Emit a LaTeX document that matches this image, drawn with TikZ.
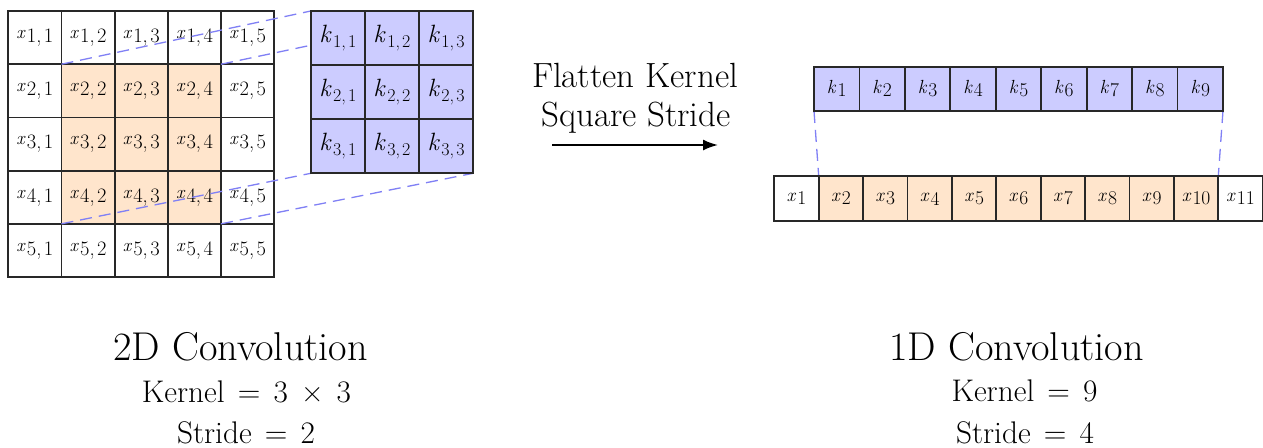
\documentclass[tikz,border=0pt]{standalone}
\usetikzlibrary{arrows.meta}
\definecolor{kfill}{RGB}{204,204,255}
\definecolor{xfill}{RGB}{255,229,204}
\definecolor{dashc}{RGB}{128,128,245}
\definecolor{gridc}{RGB}{40,40,40}
\pgfdeclarelayer{back}
\pgfdeclarelayer{mid}
\pgfsetlayers{back,mid,main}
% base letter in current size, index in size #3, lowered by #4
\newcommand\subidx[4]{\textit{#1}\kern0.06em\raisebox{-#4}{\fontsize{#3}{#3}\selectfont #2}}
\newcommand\wsp{\hspace{0.42em}}
\tikzset{
  cellbase/.style={draw=gridc, line width=1.8pt, inner sep=0pt, outer sep=0pt, anchor=center},
  gcell/.style={cellbase, minimum width=53.2pt, minimum height=53.2pt, font=\fontsize{18.5}{20}\selectfont},
  kcell/.style={cellbase, fill=kfill, minimum width=54.1pt, minimum height=54.1pt, font=\fontsize{25}{28}\selectfont},
  fkcell/.style={cellbase, fill=kfill, minimum width=45.44pt, minimum height=44.3pt, font=\fontsize{19}{20}\selectfont},
  fxcell/.style={cellbase, minimum width=44.4pt, minimum height=45pt, font=\fontsize{19}{20}\selectfont},
  dashline/.style={draw=dashc, line width=1.3pt, dash pattern=on 12pt off 7pt},
  titletext/.style={anchor=base, inner sep=0pt, font=\fontsize{40.2}{48}\selectfont},
  subtext/.style={anchor=base, inner sep=0pt, font=\fontsize{31.3}{38}\selectfont},
  flattext/.style={anchor=base, inner sep=0pt, font=\fontsize{35}{42}\selectfont},
  bigarrow/.style={line width=2pt, -{Latex[length=15pt,width=11pt]}}
}
\begin{document}
\begin{tikzpicture}[x=1pt,y=-1pt]
\useasboundingbox (0,0) rectangle (1263,447);
\begin{pgfonlayer}{back}
\fill[white] (0,0) rectangle (1263,447);
% 2D input grid
\foreach \r in {1,...,5} {
  \foreach \c in {1,...,5} {
    \pgfmathtruncatemacro\inn{and(and(\r>1,\r<5),and(\c>1,\c<5))}
    \ifnum\inn=1 \def\fc{xfill}\else\def\fc{white}\fi
    \node[gcell, fill=\fc] (g-\r-\c) at ({8.3+53.2*(\c-0.5)},{11+53.2*(\r-0.5)}) {\subidx{x}{\r,\kern0.12em\c}{20.5}{0.22em}};
  }
}
\end{pgfonlayer}

% 2D kernel
\foreach \r in {1,2,3} {
  \foreach \c in {1,2,3} {
    \node[kcell] (k-\r-\c) at ({310.8+54.1*(\c-0.5)},{11+54.1*(\r-0.5)}) {\subidx{k}{\r,\kern0.12em\c}{18}{0.22em}};
  }
}

\begin{pgfonlayer}{mid}
\draw[dashline] (g-2-2.north west) -- (k-1-1.north west);
\draw[dashline] (g-2-4.north east) -- (k-1-3.north east);
\draw[dashline] (g-4-2.south west) -- (k-3-1.south west);
\draw[dashline] (g-4-4.south east) -- (k-3-3.south east);
\end{pgfonlayer}

% flattened kernel
\foreach \i in {1,...,9} {
  \node[fkcell] (kk-\i) at ({814+45.44*(\i-0.5)},88.85) {\subidx{k}{\i}{19.5}{0.16em}};
}
% flattened input
\foreach \i in {1,...,11} {
  \pgfmathtruncatemacro\inn{and(\i>1,\i<11)}
  \ifnum\inn=1 \def\fc{xfill}\else\def\fc{white}\fi
  \node[fxcell, fill=\fc] (xx-\i) at ({774.3+44.4*(\i-0.5)},198.5) {\subidx{x}{\i}{19.5}{0.16em}};
}
\begin{pgfonlayer}{mid}
\draw[dashline] (kk-1.south west) -- (xx-2.north west);
\draw[dashline] (kk-9.south east) -- (xx-10.north east);
\end{pgfonlayer}

% arrow and its label
\node[flattext] (f1) at (635,87.3) {Flatten Kernel};
\node[flattext] (f2) at (636,126) {Square Stride};
\coordinate (a1) at (552,145);
\coordinate (a2) at (718,145);
\draw[bigarrow] (a1) -- (a2);

% captions
\node[titletext] (t2) at (240.5,360) {2D Convolution};
\node[subtext] (k2) at (246.5,402) {Kernel\wsp=\wsp3\wsp×\wsp3};
\node[subtext] (s2) at (246,443) {Stride\wsp=\wsp2};
\node[titletext] (t1) at (1016.5,360) {1D Convolution};
\node[subtext] (k1) at (1024.5,401) {Kernel\wsp=\wsp9};
\node[subtext] (s1) at (1025,443) {Stride\wsp=\wsp4};
\end{tikzpicture}
\end{document}
